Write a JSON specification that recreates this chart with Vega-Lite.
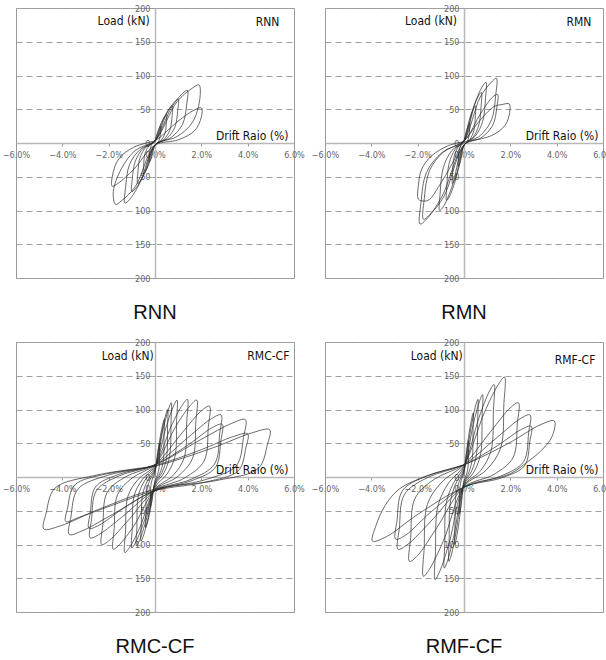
{
"$schema":"https://vega.github.io/schema/vega-lite/v6.json",
"padding":{"left":1,"top":3,"right":0,"bottom":0},
"background":"white",
"columns":2,
"spacing":{"row":64,"column":31},
"bounds":"flush",
"datasets":{
"rnn":[{"x":0,"y":0},
{"x":0,"y":3},{"x":0.13,"y":17.3},{"x":0.21,"y":23.7},{"x":0.25,"y":25},{"x":0.245,"y":18},{"x":0.21,"y":7.6},{"x":0.13,"y":0.9},{"x":0,"y":-3},{"x":-0.13,"y":-19.3},{"x":-0.21,"y":-26.5},{"x":-0.25,"y":-28},{"x":-0.245,"y":-20.3},{"x":-0.21,"y":-8.8},{"x":-0.13,"y":-1.3},
{"x":0,"y":3},{"x":0.25,"y":28.4},{"x":0.43,"y":39.7},{"x":0.5,"y":42},{"x":0.49,"y":30.8},{"x":0.43,"y":14.1},{"x":0.25,"y":3.3},{"x":0,"y":-3},{"x":-0.25,"y":-30.3},{"x":-0.43,"y":-42.5},{"x":-0.5,"y":-45},{"x":-0.49,"y":-33},{"x":-0.43,"y":-15.2},{"x":-0.25,"y":-3.7},
{"x":0,"y":3},{"x":0.38,"y":36.8},{"x":0.64,"y":51.9},{"x":0.75,"y":55},{"x":0.74,"y":40.5},{"x":0.64,"y":19},{"x":0.38,"y":5.1},{"x":0,"y":-3},{"x":-0.38,"y":-40},{"x":-0.64,"y":-56.6},{"x":-0.75,"y":-60},{"x":-0.74,"y":-44.3},{"x":-0.64,"y":-20.9},{"x":-0.38,"y":-5.8},
{"x":0,"y":3},{"x":0.5,"y":43.3},{"x":0.85,"y":61.3},{"x":1.0,"y":65},{"x":0.98,"y":48},{"x":0.85,"y":22.8},{"x":0.5,"y":6.5},{"x":0,"y":-3},{"x":-0.5,"y":-47.9},{"x":-0.85,"y":-67.9},{"x":-1.0,"y":-72},{"x":-0.98,"y":-53.3},{"x":-0.85,"y":-27},{"x":-0.5,"y":-7.5},
{"x":0,"y":3},{"x":0.7,"y":51.8},{"x":1.19,"y":73.5},{"x":1.4,"y":78},{"x":1.37,"y":57.8},{"x":1.19,"y":27.8},{"x":0.7,"y":8.3},{"x":0,"y":-3},{"x":-0.65,"y":-58.9},{"x":-1.1,"y":-83.9},{"x":-1.3,"y":-89},{"x":-1.27,"y":-66},{"x":-1.1,"y":-32},{"x":-0.65,"y":-9.9},
{"x":0,"y":3},{"x":0.95,"y":61.1},{"x":1.6,"y":81},{"x":1.9,"y":86},{"x":1.93,"y":64},{"x":1.62,"y":30.8},{"x":0.95,"y":9.5},{"x":0,"y":-3},{"x":-0.85,"y":-64.6},{"x":-1.45,"y":-85.7},{"x":-1.7,"y":-91},{"x":-1.8,"y":-72},{"x":-1.45,"y":-38},{"x":-0.85,"y":-11},
{"x":0,"y":3},{"x":1.0,"y":32.4},{"x":1.7,"y":49},{"x":2.0,"y":52},{"x":2.0,"y":38.3},{"x":1.7,"y":17.9},{"x":1.0,"y":4.7},{"x":0,"y":-3},{"x":-0.93,"y":-39.6},{"x":-1.57,"y":-59.1},{"x":-1.85,"y":-64},{"x":-1.83,"y":-47.3},{"x":-1.57,"y":-23.8},{"x":-0.93,"y":-6.4},{"x":0,"y":3}],
"rmn":[{"x":0,"y":0},
{"x":0,"y":3},{"x":0.13,"y":20.6},{"x":0.21,"y":28.4},{"x":0.25,"y":30},{"x":0.245,"y":21.8},{"x":0.21,"y":9.5},{"x":0.13,"y":1.6},{"x":0,"y":-3},{"x":-0.13,"y":-23.8},{"x":-0.21,"y":-33},{"x":-0.25,"y":-35},{"x":-0.245,"y":-25.5},{"x":-0.21,"y":-11.4},{"x":-0.13,"y":-2.3},
{"x":0,"y":3},{"x":0.25,"y":36.8},{"x":0.43,"y":51.9},{"x":0.5,"y":55},{"x":0.49,"y":40.5},{"x":0.43,"y":19},{"x":0.25,"y":5.1},{"x":0,"y":-3},{"x":-0.25,"y":-40},{"x":-0.43,"y":-56.6},{"x":-0.5,"y":-60},{"x":-0.49,"y":-44.3},{"x":-0.43,"y":-20.9},{"x":-0.25,"y":-5.8},
{"x":0,"y":3},{"x":0.38,"y":49.8},{"x":0.64,"y":70.7},{"x":0.75,"y":75},{"x":0.74,"y":55.5},{"x":0.64,"y":26.6},{"x":0.38,"y":7.9},{"x":0,"y":-3},{"x":-0.38,"y":-56.3},{"x":-0.64,"y":-80.1},{"x":-0.75,"y":-85},{"x":-0.74,"y":-63},{"x":-0.64,"y":-30.2},{"x":-0.38,"y":-9.3},
{"x":0,"y":3},{"x":0.48,"y":59.6},{"x":0.81,"y":84.8},{"x":0.95,"y":90},{"x":0.93,"y":66.8},{"x":0.81,"y":32.3},{"x":0.48,"y":10},{"x":0,"y":-3},{"x":-0.53,"y":-66},{"x":-0.89,"y":-94.2},{"x":-1.05,"y":-100},{"x":-1.03,"y":-74.3},{"x":-0.89,"y":-36.1},{"x":-0.53,"y":-11.4},
{"x":0,"y":3},{"x":0.7,"y":68.1},{"x":1.19,"y":90.4},{"x":1.4,"y":96},{"x":1.37,"y":71.3},{"x":1.19,"y":34.6},{"x":0.7,"y":10.9},{"x":0,"y":-3},{"x":-0.88,"y":-80},{"x":-1.49,"y":-106.4},{"x":-1.75,"y":-113},{"x":-1.72,"y":-84},{"x":-1.49,"y":-41.1},{"x":-0.88,"y":-13.2},
{"x":0,"y":3},{"x":0.73,"y":44.4},{"x":1.23,"y":67.9},{"x":1.45,"y":72},{"x":1.42,"y":53.3},{"x":1.23,"y":25.5},{"x":0.73,"y":7.5},{"x":0,"y":-3},{"x":-0.95,"y":-79},{"x":-1.62,"y":-113},{"x":-1.9,"y":-120},{"x":-1.86,"y":-89.3},{"x":-1.62,"y":-43.7},{"x":-0.95,"y":-14.2},
{"x":0,"y":3},{"x":0.6,"y":30},{"x":1.3,"y":54},{"x":1.65,"y":57},{"x":1.95,"y":58},{"x":1.97,"y":45},{"x":1.77,"y":26},{"x":1.19,"y":11},{"x":0.33,"y":3.5},{"x":0,"y":1},{"x":-0.5,"y":-30},{"x":-1.1,"y":-65},{"x":-1.5,"y":-84},{"x":-1.75,"y":-86},{"x":-1.97,"y":-83},{"x":-1.97,"y":-63},{"x":-1.83,"y":-39},{"x":-1.4,"y":-19},{"x":-0.68,"y":-4},{"x":0,"y":2}],
"rmc":[{"x":0,"y":0},
{"x":0,"y":5},{"x":0.1,"y":32},{"x":0.17,"y":46.4},{"x":0.2,"y":50},{"x":0.196,"y":36.3},{"x":0.18,"y":14.3},{"x":0.11,"y":3.3},{"x":0,"y":-5},{"x":-0.1,"y":-29},{"x":-0.17,"y":-41.8},{"x":-0.2,"y":-45},{"x":-0.196,"y":-32.5},{"x":-0.18,"y":-12.5},{"x":-0.11,"y":-2.5},
{"x":0,"y":8},{"x":0.2,"y":54.2},{"x":0.34,"y":78.8},{"x":0.4,"y":85},{"x":0.39,"y":61.8},{"x":0.36,"y":24.6},{"x":0.22,"y":6},{"x":0,"y":-8},{"x":-0.2,"y":-48.2},{"x":-0.34,"y":-69.6},{"x":-0.4,"y":-75},{"x":-0.39,"y":-54.3},{"x":-0.36,"y":-21},{"x":-0.22,"y":-4.5},
{"x":0,"y":10},{"x":0.28,"y":64},{"x":0.47,"y":92.8},{"x":0.55,"y":100},{"x":0.54,"y":72.5},{"x":0.5,"y":28.5},{"x":0.3,"y":6.5},{"x":0,"y":-10},{"x":-0.3,"y":-61},{"x":-0.51,"y":-88.2},{"x":-0.6,"y":-95},{"x":-0.59,"y":-68.8},{"x":-0.54,"y":-26.8},{"x":-0.33,"y":-5.8},
{"x":0,"y":12},{"x":0.35,"y":70.8},{"x":0.6,"y":102.2},{"x":0.7,"y":110},{"x":0.69,"y":79.5},{"x":0.63,"y":30.7},{"x":0.39,"y":6.3},{"x":0,"y":-12},{"x":-0.4,"y":-66},{"x":-0.68,"y":-94.8},{"x":-0.8,"y":-102},{"x":-0.78,"y":-73.5},{"x":-0.72,"y":-27.9},{"x":-0.44,"y":-5.1},
{"x":0,"y":14},{"x":0.48,"y":74},{"x":0.81,"y":106},{"x":0.95,"y":114},{"x":0.93,"y":81.8},{"x":0.86,"y":30.2},{"x":0.52,"y":4.4},{"x":0,"y":-15},{"x":-0.5,"y":-69},{"x":-0.85,"y":-97.8},{"x":-1.0,"y":-105},{"x":-0.98,"y":-75.3},{"x":-0.9,"y":-27.7},{"x":-0.55,"y":-3.9},
{"x":0,"y":16},{"x":0.7,"y":75.4},{"x":1.19,"y":107.1},{"x":1.4,"y":115},{"x":1.37,"y":81.8},{"x":1.26,"y":28.6},{"x":0.77,"y":2},{"x":0,"y":-18},{"x":-0.65,"y":-74.4},{"x":-1.1,"y":-104.5},{"x":-1.3,"y":-112},{"x":-1.27,"y":-80},{"x":-1.17,"y":-28.8},{"x":-0.72,"y":-3.2},
{"x":0,"y":17},{"x":0.9,"y":75.2},{"x":1.53,"y":106.2},{"x":1.8,"y":114},{"x":1.76,"y":80.8},{"x":1.62,"y":27.6},{"x":0.99,"y":1},{"x":0,"y":-19},{"x":-0.9,"y":-71.8},{"x":-1.53,"y":-100},{"x":-1.8,"y":-107},{"x":-1.76,"y":-76},{"x":-1.62,"y":-26.4},{"x":-0.99,"y":-1.6},
{"x":0,"y":18},{"x":1.18,"y":65.9},{"x":2.0,"y":98},{"x":2.35,"y":105},{"x":2.3,"y":73.8},{"x":2.12,"y":23.8},{"x":1.29,"y":-1.2},{"x":0,"y":-20},{"x":-1.15,"y":-64},{"x":-1.96,"y":-93.6},{"x":-2.3,"y":-100},{"x":-2.25,"y":-70.5},{"x":-2.07,"y":-23.3},{"x":-1.27,"y":0.3},
{"x":0,"y":18},{"x":1.43,"y":58.7},{"x":2.42,"y":86.1},{"x":2.85,"y":92},{"x":2.79,"y":64},{"x":2.57,"y":19.2},{"x":1.57,"y":-3.2},{"x":0,"y":-20},{"x":-1.4,"y":-58.5},{"x":-2.38,"y":-84.4},{"x":-2.8,"y":-90},{"x":-2.74,"y":-63},{"x":-2.52,"y":-19.8},{"x":-1.54,"y":1.8},
{"x":0,"y":18},{"x":1.45,"y":48},{"x":2.47,"y":73.2},{"x":2.9,"y":78},{"x":2.84,"y":53.5},{"x":2.61,"y":14.3},{"x":1.6,"y":-5.3},{"x":0,"y":-20},{"x":-1.43,"y":-48},{"x":-2.42,"y":-71.5},{"x":-2.85,"y":-76},{"x":-2.79,"y":-52.5},{"x":-2.57,"y":-14.9},{"x":-1.57,"y":3.9},
{"x":0,"y":18},{"x":1.95,"y":54.9},{"x":3.32,"y":79.6},{"x":3.9,"y":85},{"x":3.82,"y":58.8},{"x":3.51,"y":16.8},{"x":2.15,"y":-4.2},{"x":0,"y":-20},{"x":-1.85,"y":-55.8},{"x":-3.15,"y":-79.8},{"x":-3.7,"y":-85},{"x":-3.63,"y":-59.3},{"x":-3.33,"y":-18.1},{"x":-2.04,"y":2.5},
{"x":0,"y":17},{"x":2.0,"y":40.5},{"x":3.4,"y":60.2},{"x":4.0,"y":64},{"x":3.92,"y":43},{"x":3.6,"y":9.4},{"x":2.2,"y":-7.4},{"x":0,"y":-20},{"x":-1.93,"y":-43},{"x":-3.27,"y":-59.6},{"x":-3.85,"y":-66},{"x":-3.77,"y":-45.3},{"x":-3.47,"y":-12},{"x":-2.12,"y":4.5},
{"x":0,"y":16},{"x":2.48,"y":43},{"x":4.21,"y":65.7},{"x":4.95,"y":70},{"x":4.85,"y":48},{"x":4.46,"y":12.8},{"x":2.72,"y":-4.8},{"x":0,"y":-18},{"x":-2.4,"y":-47.5},{"x":-4.08,"y":-72.3},{"x":-4.8,"y":-77},{"x":-4.7,"y":-53.8},{"x":-4.32,"y":-16.6},{"x":-2.64,"y":2},{"x":0,"y":16}],
"rmf":[{"x":0,"y":0},
{"x":0,"y":5},{"x":0.1,"y":35},{"x":0.17,"y":51},{"x":0.2,"y":55},{"x":0.196,"y":40},{"x":0.18,"y":16},{"x":0.11,"y":4},{"x":0,"y":-5},{"x":-0.1,"y":-35},{"x":-0.17,"y":-51},{"x":-0.2,"y":-55},{"x":-0.196,"y":-40},{"x":-0.18,"y":-16},{"x":-0.11,"y":-4},
{"x":0,"y":8},{"x":0.2,"y":60.2},{"x":0.34,"y":88},{"x":0.4,"y":95},{"x":0.39,"y":69.3},{"x":0.36,"y":28},{"x":0.22,"y":7.5},{"x":0,"y":-8},{"x":-0.2,"y":-63.2},{"x":-0.34,"y":-92.6},{"x":-0.4,"y":-100},{"x":-0.39,"y":-73},{"x":-0.36,"y":-29.8},{"x":-0.22,"y":-8.2},
{"x":0,"y":10},{"x":0.3,"y":73},{"x":0.51,"y":106.6},{"x":0.6,"y":115},{"x":0.59,"y":83.8},{"x":0.54,"y":33.8},{"x":0.33,"y":8.8},{"x":0,"y":-10},{"x":-0.33,"y":-79},{"x":-0.55,"y":-115.8},{"x":-0.65,"y":-125},{"x":-0.64,"y":-91.3},{"x":-0.59,"y":-37.3},{"x":-0.36,"y":-10.3},
{"x":0,"y":12},{"x":0.4,"y":78},{"x":0.68,"y":113.2},{"x":0.8,"y":122},{"x":0.78,"y":88.5},{"x":0.72,"y":34.9},{"x":0.44,"y":8.1},{"x":0,"y":-12},{"x":-0.43,"y":-85.8},{"x":-0.72,"y":-125.2},{"x":-0.85,"y":-135},{"x":-0.83,"y":-98.3},{"x":-0.77,"y":-39.5},{"x":-0.47,"y":-10.1},
{"x":0,"y":15},{"x":0.65,"y":88.2},{"x":1.1,"y":127.2},{"x":1.3,"y":137},{"x":1.27,"y":99.5},{"x":1.17,"y":39.5},{"x":0.72,"y":9.5},{"x":0,"y":-13},{"x":-0.63,"y":-96.4},{"x":-1.06,"y":-140.9},{"x":-1.25,"y":-152},{"x":-1.23,"y":-110.3},{"x":-1.13,"y":-43.5},{"x":-0.69,"y":-10.1},
{"x":0,"y":17},{"x":0.88,"y":95.6},{"x":1.49,"y":137.5},{"x":1.75,"y":148},{"x":1.72,"y":107.5},{"x":1.58,"y":42.7},{"x":0.96,"y":10.3},{"x":0,"y":-14},{"x":-0.88,"y":-93.8},{"x":-1.49,"y":-136.4},{"x":-1.75,"y":-147},{"x":-1.72,"y":-106},{"x":-1.58,"y":-40.4},{"x":-0.96,"y":-7.6},
{"x":0,"y":18},{"x":1.18,"y":68.6},{"x":2.0,"y":102.6},{"x":2.35,"y":110},{"x":2.3,"y":78.8},{"x":2.12,"y":28.8},{"x":1.29,"y":3.8},{"x":0,"y":-15},{"x":-1.18,"y":-75.5},{"x":-2.0,"y":-116.2},{"x":-2.35,"y":-125},{"x":-2.3,"y":-89.3},{"x":-2.12,"y":-32.1},{"x":-1.29,"y":-3.5},
{"x":0,"y":18},{"x":1.43,"y":58.7},{"x":2.42,"y":86.1},{"x":2.85,"y":92},{"x":2.79,"y":65.3},{"x":2.57,"y":22.5},{"x":1.57,"y":1.1},{"x":0,"y":-15},{"x":-1.43,"y":-65.6},{"x":-2.42,"y":-99.6},{"x":-2.85,"y":-107},{"x":-2.79,"y":-75.8},{"x":-2.57,"y":-25.8},{"x":-1.57,"y":-0.8},
{"x":0,"y":18},{"x":1.45,"y":46.5},{"x":2.47,"y":70.4},{"x":2.9,"y":75},{"x":2.84,"y":52.5},{"x":2.61,"y":16.5},{"x":1.6,"y":-1.5},{"x":0,"y":-15},{"x":-1.48,"y":-53.5},{"x":-2.51,"y":-85.8},{"x":-2.95,"y":-92},{"x":-2.89,"y":-64.5},{"x":-2.66,"y":-20.5},{"x":-1.62,"y":1.5},
{"x":0,"y":18},{"x":1.95,"y":50.5},{"x":3.32,"y":77.8},{"x":3.9,"y":83},{"x":3.8,"y":60},{"x":3.3,"y":38},{"x":2.8,"y":24},{"x":2.0,"y":5},{"x":0,"y":-15},{"x":-1.98,"y":-55},{"x":-3.36,"y":-88.6},{"x":-3.95,"y":-95},{"x":-3.8,"y":-72},{"x":-3.4,"y":-42},{"x":-2.8,"y":-18},{"x":-1.8,"y":-1},{"x":0,"y":18}]
},
"concat":[
{"width":278,"height":270,
"title":{"text":"RNN","orient":"bottom","anchor":"middle","offset":20},
"encoding":{"x":{"field":"x","type":"quantitative","title":null,"scale":{"domain":[-6,6],"nice":false,"zero":false},"axis":{"orient":"bottom","offset":-135,"values":[-6,-4,-2,0,2,4,6],"labelExpr":"format(datum.value,'.1f')+'%'","grid":false,"labelFlush":false,"labelOverlap":false,"labelBound":false,"labelPadding":4}},
"y":{"field":"y","type":"quantitative","title":null,"scale":{"domain":[-200,200],"nice":false},"axis":{"orient":"left","offset":-139,"values":[-200,-150,-100,-50,0,50,100,150,200],"labelExpr":"format(abs(datum.value),'d')","grid":true,"gridDash":[6,4],"gridColor":"#a0a0a0","labelOverlap":false,"labelPadding":2}}},
"layer":[
{"data":{"name":"rnn"},"mark":{"type":"line","interpolate":"catmull-rom","stroke":"#2b2b2b","strokeWidth":0.7},"encoding":{"order":{"value":null}}},
{"data":{"values":[{"x":-0.23,"y":181,"t":"Load (kN)"},{"x":5.76,"y":11,"t":"Drift Raio (%)"},{"x":5.37,"y":179,"t":"RNN"}]},
"mark":{"type":"text","align":"right","baseline":"middle","fontSize":12,"font":"Liberation Sans Narrow, DejaVu Sans Condensed, Liberation Sans, sans-serif","color":"#111"},
"encoding":{"text":{"field":"t"}}}
]},
{"width":278,"height":270,
"title":{"text":"RMN","orient":"bottom","anchor":"middle","offset":20},
"encoding":{"x":{"field":"x","type":"quantitative","title":null,"scale":{"domain":[-6,6],"nice":false,"zero":false},"axis":{"orient":"bottom","offset":-135,"values":[-6,-4,-2,0,2,4,6],"labelExpr":"format(datum.value,'.1f')+'%'","grid":false,"labelFlush":false,"labelOverlap":false,"labelBound":false,"labelPadding":4}},
"y":{"field":"y","type":"quantitative","title":null,"scale":{"domain":[-200,200],"nice":false},"axis":{"orient":"left","offset":-139,"values":[-200,-150,-100,-50,0,50,100,150,200],"labelExpr":"format(abs(datum.value),'d')","grid":true,"gridDash":[6,4],"gridColor":"#a0a0a0","labelOverlap":false,"labelPadding":2}}},
"layer":[
{"data":{"name":"rmn"},"mark":{"type":"line","interpolate":"catmull-rom","stroke":"#2b2b2b","strokeWidth":0.7},"encoding":{"order":{"value":null}}},
{"data":{"values":[{"x":-0.3,"y":181,"t":"Load (kN)"},{"x":5.8,"y":11,"t":"Drift Raio (%)"},{"x":5.5,"y":179,"t":"RMN"}]},
"mark":{"type":"text","align":"right","baseline":"middle","fontSize":12,"font":"Liberation Sans Narrow, DejaVu Sans Condensed, Liberation Sans, sans-serif","color":"#111"},
"encoding":{"text":{"field":"t"}}}
]},
{"width":278,"height":270,
"title":{"text":"RMC-CF","orient":"bottom","anchor":"middle","offset":20},
"encoding":{"x":{"field":"x","type":"quantitative","title":null,"scale":{"domain":[-6,6],"nice":false,"zero":false},"axis":{"orient":"bottom","offset":-135,"values":[-6,-4,-2,0,2,4,6],"labelExpr":"format(datum.value,'.1f')+'%'","grid":false,"labelFlush":false,"labelOverlap":false,"labelBound":false,"labelPadding":4}},
"y":{"field":"y","type":"quantitative","title":null,"scale":{"domain":[-200,200],"nice":false},"axis":{"orient":"left","offset":-139,"values":[-200,-150,-100,-50,0,50,100,150,200],"labelExpr":"format(abs(datum.value),'d')","grid":true,"gridDash":[6,4],"gridColor":"#a0a0a0","labelOverlap":false,"labelPadding":2}}},
"layer":[
{"data":{"name":"rmc"},"mark":{"type":"line","interpolate":"catmull-rom","stroke":"#2b2b2b","strokeWidth":0.7},"encoding":{"order":{"value":null}}},
{"data":{"values":[{"x":-0.05,"y":180,"t":"Load (kN)"},{"x":5.76,"y":11,"t":"Drift Raio (%)"},{"x":5.8,"y":180,"t":"RMC-CF"}]},
"mark":{"type":"text","align":"right","baseline":"middle","fontSize":12,"font":"Liberation Sans Narrow, DejaVu Sans Condensed, Liberation Sans, sans-serif","color":"#111"},
"encoding":{"text":{"field":"t"}}}
]},
{"width":278,"height":270,
"title":{"text":"RMF-CF","orient":"bottom","anchor":"middle","offset":20},
"encoding":{"x":{"field":"x","type":"quantitative","title":null,"scale":{"domain":[-6,6],"nice":false,"zero":false},"axis":{"orient":"bottom","offset":-135,"values":[-6,-4,-2,0,2,4,6],"labelExpr":"format(datum.value,'.1f')+'%'","grid":false,"labelFlush":false,"labelOverlap":false,"labelBound":false,"labelPadding":4}},
"y":{"field":"y","type":"quantitative","title":null,"scale":{"domain":[-200,200],"nice":false},"axis":{"orient":"left","offset":-139,"values":[-200,-150,-100,-50,0,50,100,150,200],"labelExpr":"format(abs(datum.value),'d')","grid":true,"gridDash":[6,4],"gridColor":"#a0a0a0","labelOverlap":false,"labelPadding":2}}},
"layer":[
{"data":{"name":"rmf"},"mark":{"type":"line","interpolate":"catmull-rom","stroke":"#2b2b2b","strokeWidth":0.7},"encoding":{"order":{"value":null}}},
{"data":{"values":[{"x":-0.05,"y":180,"t":"Load (kN)"},{"x":5.8,"y":11,"t":"Drift Raio (%)"},{"x":5.67,"y":174,"t":"RMF-CF"}]},
"mark":{"type":"text","align":"right","baseline":"middle","fontSize":12,"font":"Liberation Sans Narrow, DejaVu Sans Condensed, Liberation Sans, sans-serif","color":"#111"},
"encoding":{"text":{"field":"t"}}}
]}
],
"config":{
"view":{"stroke":"#9a9a9a","strokeWidth":1},
"axis":{"labelFont":"Liberation Sans Narrow, DejaVu Sans Condensed, Liberation Sans, sans-serif","labelFontSize":9,"labelColor":"#666","domainColor":"#b8b8b8","domainWidth":1.5,"tickColor":"#999","tickSize":3},
"title":{"font":"Liberation Sans, sans-serif","fontSize":20,"fontWeight":"normal","color":"#111"}
}
}
